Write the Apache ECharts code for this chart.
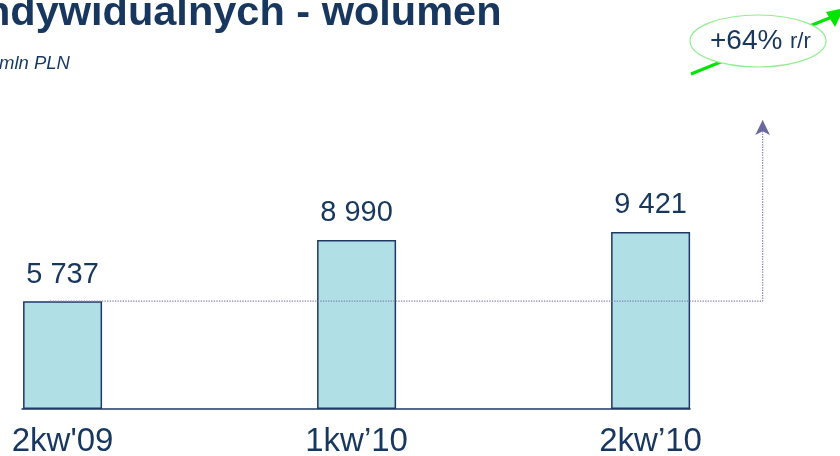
<!DOCTYPE html>
<html><head><meta charset="utf-8">
<script src="https://cdn.jsdelivr.net/npm/echarts@6/dist/echarts.min.js"></script>
<style>html,body{margin:0;padding:0;background:#fff}#c{width:840px;height:456px}</style>
</head><body><div id="c"></div>
<script>
var categories = ["2kw'09", "1kw\u201910", "2kw\u201910"];
var values = [5737, 8990, 9421];
var valueLabels = ["5 737", "8 990", "9 421"];
var titleText = "ndywidualnych - wolumen";
var unitText = "mln PLN";
var growthText = "+64%";
var growthSuffix = "r/r";
// dotted connector (data coordinates): from first bar level to the arrow
var connectorX = [-0.043, 2.381, 2.381];
var connectorY = [5737, 5737, 15370];

var navy = '#17375e';
var font = 'Liberation Sans, Arial, sans-serif';
var chart = echarts.init(document.getElementById('c'), null, {renderer: 'canvas'});

var xMin = -0.138, xMax = 2.134, yMax = 16170;
var unitPx = 668 / (xMax - xMin);
var xMax2 = xMin + 818 / unitPx;

var barData = values.map(function (v, i) { return [i, v]; });
var connData = connectorX.map(function (x, i) {
  var item = {value: [x, connectorY[i]]};
  if (i === connectorX.length - 1) { item.symbol = 'arrow'; item.symbolSize = [11, 15]; }
  else { item.symbol = 'none'; }
  return item;
});

chart.setOption({
  animation: false,
  backgroundColor: '#fff',
  textStyle: {fontFamily: font},
  grid: [
    {left: 22, right: 150, top: 105, bottom: 47, containLabel: false, outerBoundsMode: 'none'},
    {left: 22, right: 0, top: 105, bottom: 47, containLabel: false, outerBoundsMode: 'none'}
  ],
  xAxis: [{
    type: 'value', min: xMin, max: xMax, gridIndex: 0,
    splitLine: {show: false},
    axisTick: {show: false},
    axisLine: {show: true, onZero: false, lineStyle: {color: '#1f3864', width: 1.5}},
    axisLabel: {
      customValues: [0, 1, 2],
      formatter: function (v) { return categories[Math.round(v)] || ''; },
      color: navy, fontSize: 33, margin: 16, fontFamily: font
    }
  }, {
    type: 'value', min: xMin, max: xMax2, gridIndex: 1, show: false, splitLine: {show: false}
  }],
  yAxis: [
    {type: 'value', min: 0, max: yMax, show: false, splitLine: {show: false}, gridIndex: 0},
    {type: 'value', min: 0, max: yMax, show: false, splitLine: {show: false}, gridIndex: 1}
  ],
  series: [
    {
      type: 'bar', data: barData, barWidth: 79, xAxisIndex: 0, yAxisIndex: 0,
      itemStyle: {color: '#b0dfe5', borderColor: '#1f3864', borderWidth: 1.5},
      label: {
        show: true, position: 'top', distance: 12,
        formatter: function (p) { return valueLabels[p.dataIndex]; },
        color: navy, fontSize: 29, fontFamily: font
      }
    },
    {
      type: 'line', data: connData, xAxisIndex: 1, yAxisIndex: 1, showSymbol: true,
      lineStyle: {type: 'dotted', color: '#8480b4', width: 1.3},
      itemStyle: {color: '#6a689e'},
      z: 3
    }
  ],
  graphic: [
    {type: 'text', left: -15, top: -7, style: {text: titleText, font: 'bold 41.5px "Liberation Sans", Arial, sans-serif', fill: navy}},
    {type: 'text', left: -1, top: 54, style: {text: unitText, font: 'italic 18.5px "Liberation Sans", Arial, sans-serif', fill: navy}},
    {type: 'line', shape: {x1: 691, y1: 74, x2: 832, y2: 17}, style: {stroke: '#00e600', lineWidth: 3}},
    {type: 'polygon', shape: {points: [[844, 8], [826, 12], [835, 27]]}, style: {fill: '#00e600'}},
    {type: 'ellipse', shape: {cx: 758, cy: 41, rx: 68, ry: 26}, style: {fill: '#fff', stroke: '#90ee90', lineWidth: 1.2}},
    {type: 'text', left: 710, top: 27, style: {text: growthText, font: '28px "Liberation Sans", Arial, sans-serif', fill: navy}},
    {type: 'text', left: 790, top: 31, style: {text: growthSuffix, font: '22px "Liberation Sans", Arial, sans-serif', fill: navy}}
  ]
});
</script></body></html>
